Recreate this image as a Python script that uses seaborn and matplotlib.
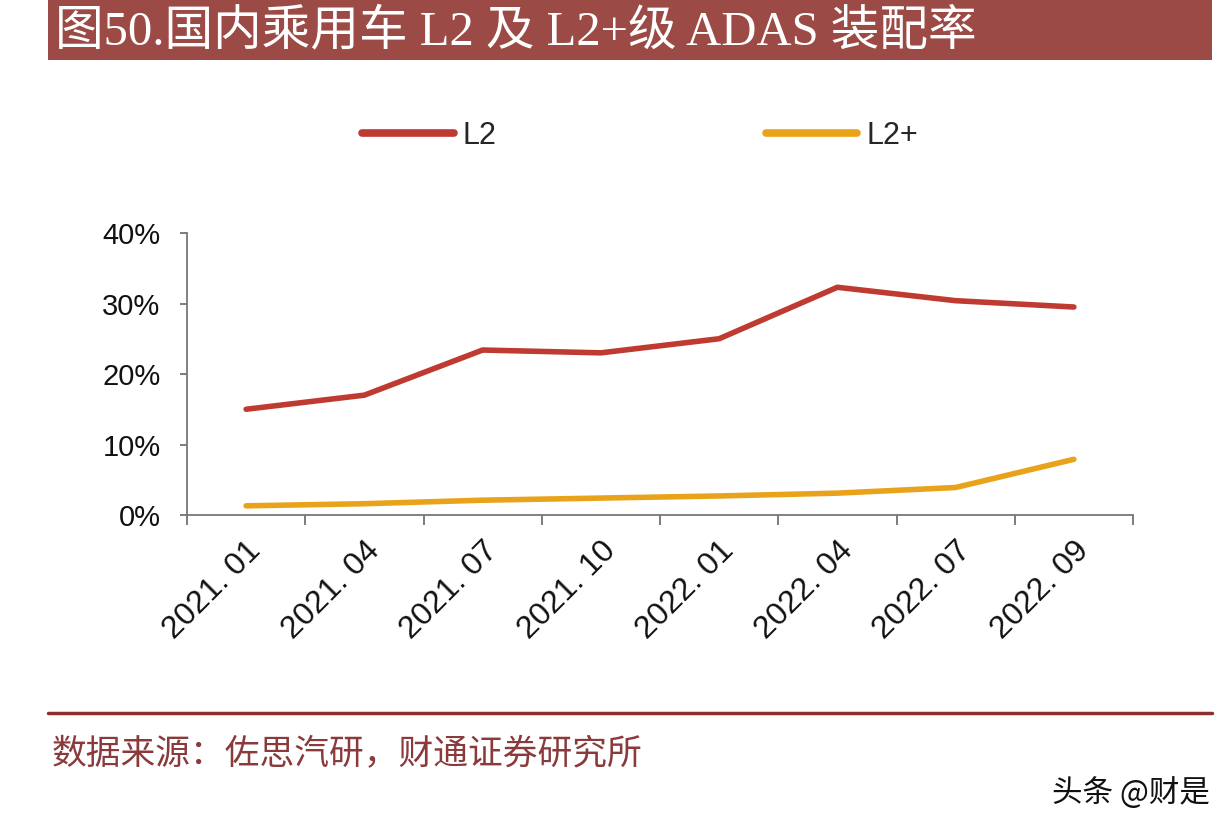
import numpy as np
import pandas as pd
import matplotlib
matplotlib.use("Agg")
import matplotlib.pyplot as plt
from matplotlib.ticker import PercentFormatter
from matplotlib.patches import Rectangle
from matplotlib.lines import Line2D
import seaborn as sns

# data (percent)
months = ["2021. 01", "2021. 04", "2021. 07", "2021. 10",
          "2022. 01", "2022. 04", "2022. 07", "2022. 09"]
l2_rate = [15.0, 17.0, 23.4, 23.0, 25.0, 32.3, 30.4, 29.5]
l2plus_rate = [1.3, 1.6, 2.1, 2.4, 2.7, 3.1, 3.9, 7.9]
series_names = ["L2", "L2+"]
y_ticks = [0, 10, 20, 30, 40]

title = "图50.国内乘用车 L2 及 L2+级 ADAS 装配率"
source = "数据来源：佐思汽研，财通证券研究所"
watermark = "头条 @财是"

RED = "#BF3A31"
GOLD = "#E8A31B"
BAR = "#9B4A45"

df = pd.DataFrame({
    "month": months * 2,
    "rate": l2_rate + l2plus_rate,
    "level": [series_names[0]] * len(months) + [series_names[1]] * len(months),
})

sns.set_theme(style="white")
plt.rcParams["font.family"] = ["Liberation Sans", "Noto Sans CJK SC", "DejaVu Sans"]

fig = plt.figure(figsize=(12.32, 8.30), dpi=100)
ax = fig.add_axes([187 / 1232, 1 - 515 / 830, (1133 - 187) / 1232, (515 - 233) / 830])

sns.lineplot(data=df, x="month", y="rate", hue="level", sort=False,
             palette={"L2": RED, "L2+": GOLD}, linewidth=4.0, legend=False, ax=ax)
for ln in ax.lines:
    ln.set_solid_capstyle("round")
    ln.set_solid_joinstyle("round")

ax.set_xlim(-0.5, len(months) - 0.5)
ax.set_ylim(0, 40)
ax.set_yticks(y_ticks)
ax.yaxis.set_major_formatter(PercentFormatter(xmax=100, decimals=0))
ax.set_xticks(range(len(months)))
ax.set_xticklabels(months, rotation=45, ha="right", rotation_mode="anchor")
ax.set_xticks(np.arange(-0.5, len(months)), minor=True)
ax.set_xlabel("")
ax.set_ylabel("")

ax.tick_params(axis="x", which="major", length=0, pad=15, labelsize=23, colors="#111111")
ax.tick_params(axis="x", which="minor", length=7, width=1.2, color="#666666", bottom=True)
ax.tick_params(axis="y", length=5, width=1.2, color="#666666", left=True, pad=14,
               labelsize=21, labelcolor="#111111")

sns.despine(ax=ax)
for side in ["left", "bottom"]:
    ax.spines[side].set_color("#777777")
    ax.spines[side].set_linewidth(1.3)

# legend
handles = [Line2D([], [], color=RED, linewidth=5.5, solid_capstyle="round"),
           Line2D([], [], color=GOLD, linewidth=5.5, solid_capstyle="round")]
fig.legend(handles, series_names, loc="center left", bbox_to_anchor=(362 / 1232, 1 - 136 / 830),
           ncol=2, frameon=False, fontsize=22, handlelength=3.0, handletextpad=0.3,
           columnspacing=8.8, borderpad=0, borderaxespad=0)

# title bar
fig.patches.append(Rectangle((48 / 1232, 1 - 60 / 830), (1212 - 48) / 1232, 60 / 830,
                             transform=fig.transFigure, facecolor=BAR, edgecolor="none"))
fig.text(55 / 1232, 1 - 31 / 830, title, color="white", fontsize=35, va="center", ha="left",
         family=["Liberation Serif", "Noto Sans CJK SC"])

# footer
fig.add_artist(Line2D([48 / 1232, 1212 / 1232], [1 - 713 / 830] * 2, transform=fig.transFigure,
                      color="#8E2F2C", linewidth=2.5))
fig.text(52 / 1232, 1 - 755 / 830, source, color="#8A3A3A", fontsize=25, va="center", ha="left",
         family=["Noto Sans CJK SC"])
fig.text(1210 / 1232, 1 - 793 / 830, watermark, color="#111111", fontsize=22, va="center", ha="right",
         family=["Noto Sans CJK SC", "DejaVu Sans"])

fig.savefig("out.png", dpi=100, facecolor="white")
